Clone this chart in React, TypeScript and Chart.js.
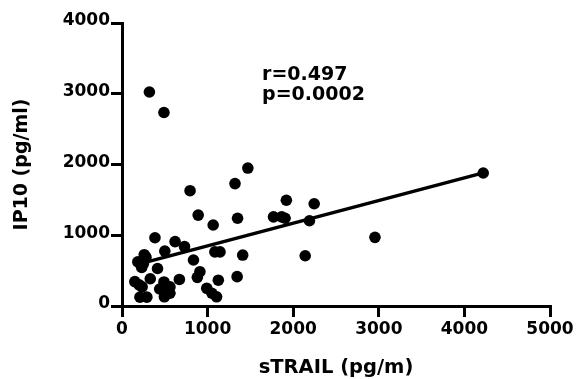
import React, { useEffect, useRef } from "react";
import { Chart, registerables } from "chart.js";

Chart.register(...registerables);

// sTRAIL (pg/m) values
const sTRAIL = [
  320, 490, 795, 1470, 1320, 4220, 2955, 890, 1065, 1350,
  1920, 2245, 1770, 1865, 1905, 2190, 2140, 385, 620, 730,
  500, 260, 185, 1085, 1145, 1410, 835, 415, 230, 910,
  880, 1345, 1125, 670, 330, 150, 490, 560, 235, 990,
  1050, 1105, 210, 290, 495, 560, 250, 440, 280, 200,
];
// IP10 (pg/ml) values
const IP10 = [
  3025, 2735, 1630, 1950, 1730, 1880, 970, 1285, 1145, 1240,
  1495, 1445, 1260, 1260, 1240, 1205, 710, 965, 910, 840,
  775, 725, 625, 765, 765, 720, 650, 530, 545, 485,
  405, 415, 365, 375, 385, 345, 340, 270, 270, 250,
  180, 130, 125, 125, 130, 180, 600, 240, 690, 300,
];

// linear regression
const REG_SLOPE = 0.3203;
const REG_INTERCEPT = 530;

const STAT_LINES = ["r=0.497", "p=0.0002"];
const STAT_X = 1636;
const STAT_Y = [3191, 2908];

const X_TITLE = "sTRAIL (pg/m)";
const Y_TITLE = "IP10 (pg/ml)";
const X_TICKS = ["0", "1000", "2000", "3000", "4000", "5000"];
const Y_TICKS = ["0", "1000", "2000", "3000", "4000"];
const STEP = 1000;

const FONT = '"DejaVu Sans", sans-serif';

const statsPlugin = {
  id: "stats",
  afterDatasetsDraw(chart: any) {
    const { ctx } = chart;
    const x = chart.scales.x;
    const y = chart.scales.y;
    ctx.save();
    ctx.font = `bold 19px ${FONT}`;
    ctx.fillStyle = "#000";
    ctx.textAlign = "left";
    ctx.textBaseline = "alphabetic";
    STAT_LINES.forEach((t, i) => {
      ctx.fillText(t, x.getPixelForValue(STAT_X), y.getPixelForValue(STAT_Y[i]));
    });
    ctx.restore();
  },
};

export default function App() {
  const ref = useRef<HTMLCanvasElement | null>(null);

  useEffect(() => {
    document.body.style.margin = "0";
    const points = sTRAIL.map((v, i) => ({ x: v, y: IP10[i] }));
    const xMin = Math.min(...sTRAIL);
    const xMax = Math.max(...sTRAIL);
    const regLine = [
      { x: xMin, y: REG_INTERCEPT + REG_SLOPE * xMin },
      { x: xMax, y: REG_INTERCEPT + REG_SLOPE * xMax },
    ];

    const chart = new Chart(ref.current as HTMLCanvasElement, {
      type: "scatter",
      data: {
        datasets: [
          {
            type: "line",
            data: regLine,
            borderColor: "#000",
            borderWidth: 3.5,
            pointRadius: 0,
            fill: false,
            clip: false,
          } as any,
          {
            data: points,
            backgroundColor: "#000",
            borderWidth: 0,
            pointRadius: 5.8,
            pointHoverRadius: 5.8,
            clip: false,
          } as any,
        ],
      },
      options: {
        animation: false,
        responsive: false,
        events: [],
        layout: { padding: { top: 23, right: 27, left: 0, bottom: 0 } },
        plugins: {
          legend: { display: false },
          tooltip: { enabled: false },
        },
        scales: {
          x: {
            type: "linear",
            min: Number(X_TICKS[0]),
            max: Number(X_TICKS[X_TICKS.length - 1]),
            afterFit: (s: any) => {
              s.height = 73;
            },
            border: { display: true, color: "#000", width: 3 },
            grid: {
              drawOnChartArea: false,
              color: "#000",
              lineWidth: 3,
              tickLength: 11,
            },
            ticks: {
              stepSize: STEP,
              autoSkip: false,
              maxRotation: 0,
              padding: 2,
              color: "#000",
              font: { family: FONT, size: 17, weight: "bold" },
              callback: (_v: any, i: number) => X_TICKS[i],
            },
            title: {
              display: true,
              text: X_TITLE,
              color: "#000",
              font: { family: FONT, size: 19.5, weight: "bold", lineHeight: 1 },
              padding: { top: 0, bottom: 1 },
            },
          },
          y: {
            type: "linear",
            min: Number(Y_TICKS[0]),
            max: Number(Y_TICKS[Y_TICKS.length - 1]),
            afterFit: (s: any) => {
              s.width = 122;
            },
            border: { display: true, color: "#000", width: 3 },
            grid: {
              drawOnChartArea: false,
              color: "#000",
              lineWidth: 3,
              tickLength: 11,
            },
            ticks: {
              stepSize: STEP,
              autoSkip: false,
              padding: 1,
              labelOffset: -2,
              color: "#000",
              font: { family: FONT, size: 17, weight: "bold" },
              callback: (_v: any, i: number) => Y_TICKS[i],
            },
            title: {
              display: true,
              text: Y_TITLE,
              color: "#000",
              font: { family: FONT, size: 19, weight: "bold", lineHeight: 1 },
              padding: { top: 13, bottom: 0 },
            },
          },
        },
      },
      plugins: [statsPlugin],
    });
    return () => chart.destroy();
  }, []);

  return (
    <div style={{ position: "absolute", left: 0, top: 0, width: 577, height: 379, background: "#fff" }}>
      <canvas ref={ref} width={577} height={379} style={{ width: 577, height: 379, display: "block" }} />
    </div>
  );
}
